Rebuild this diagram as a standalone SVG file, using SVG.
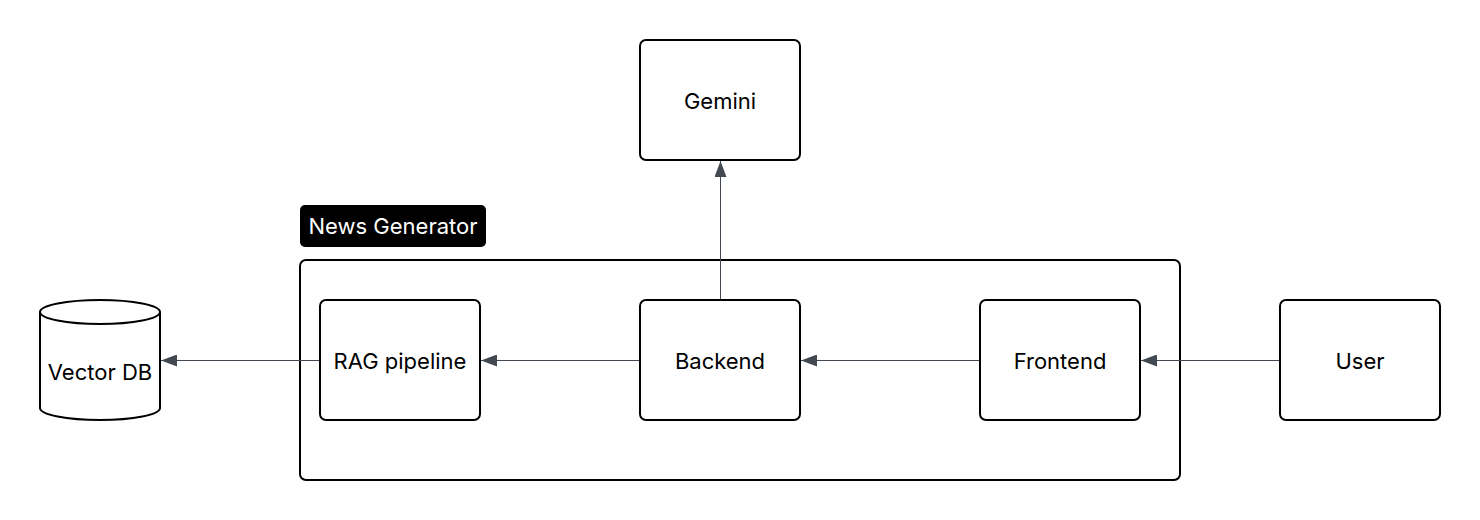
<svg xmlns="http://www.w3.org/2000/svg" width="1480" height="520" viewBox="0 0 1480 520">
<style>
.node{fill:#ffffff;stroke:#000000;stroke-width:2}
.lbl{font-family:Inter,"Liberation Sans",sans-serif;font-size:22px;fill:#000000;text-anchor:middle;dominant-baseline:central}
.edge{stroke:#424953;stroke-width:1;fill:none}
</style>
<defs>
<marker id="arr" viewBox="0 0 16 12" refX="16" refY="6" markerWidth="16" markerHeight="12" markerUnits="userSpaceOnUse" orient="auto">
<path d="M0,0 L16,6 L0,12 Z" fill="#424953"/>
</marker>
</defs>
<rect width="1480" height="520" fill="#ffffff"/>
<g id="news-generator">
<rect x="300" y="260" width="880" height="220" rx="6" fill="none" stroke="#000" stroke-width="2"/>
<rect x="300" y="205" width="186" height="42" rx="5" fill="#000"/>
<text x="393" y="226" font-family="Inter,'Liberation Sans',sans-serif" font-size="22" fill="#fff" text-anchor="middle" dominant-baseline="central">News Generator</text>
</g>
<g id="connectors">
<line class="edge" x1="320" y1="360.5" x2="161" y2="360.5" marker-end="url(#arr)"/>
<line class="edge" x1="640" y1="360.5" x2="481" y2="360.5" marker-end="url(#arr)"/>
<line class="edge" x1="980" y1="360.5" x2="801" y2="360.5" marker-end="url(#arr)"/>
<line class="edge" x1="1280" y1="360.5" x2="1141" y2="360.5" marker-end="url(#arr)"/>
<line class="edge" x1="720.5" y1="300" x2="720.5" y2="161" marker-end="url(#arr)"/>
</g>
<g id="gemini">
<rect class="node" x="640" y="40" width="160" height="120" rx="6"/>
<text class="lbl" x="720" y="101">Gemini</text>
</g>
<g id="vector-db">
<path class="node" d="M40,312 A60,12 0 0 1 160,312 L160,408 A60,12 0 0 1 40,408 Z"/>
<path d="M40,312 A60,12 0 0 0 160,312" fill="none" stroke="#000" stroke-width="2"/>
<text class="lbl" x="100" y="372">Vector DB</text>
</g>
<g id="rag-pipeline">
<rect class="node" x="320" y="300" width="160" height="120" rx="6"/>
<text class="lbl" x="400" y="361">RAG pipeline</text>
</g>
<g id="backend">
<rect class="node" x="640" y="300" width="160" height="120" rx="6"/>
<text class="lbl" x="720" y="361">Backend</text>
</g>
<g id="frontend">
<rect class="node" x="980" y="300" width="160" height="120" rx="6"/>
<text class="lbl" x="1060" y="361">Frontend</text>
</g>
<g id="user">
<rect class="node" x="1280" y="300" width="160" height="120" rx="6"/>
<text class="lbl" x="1360" y="361">User</text>
</g>
</svg>
